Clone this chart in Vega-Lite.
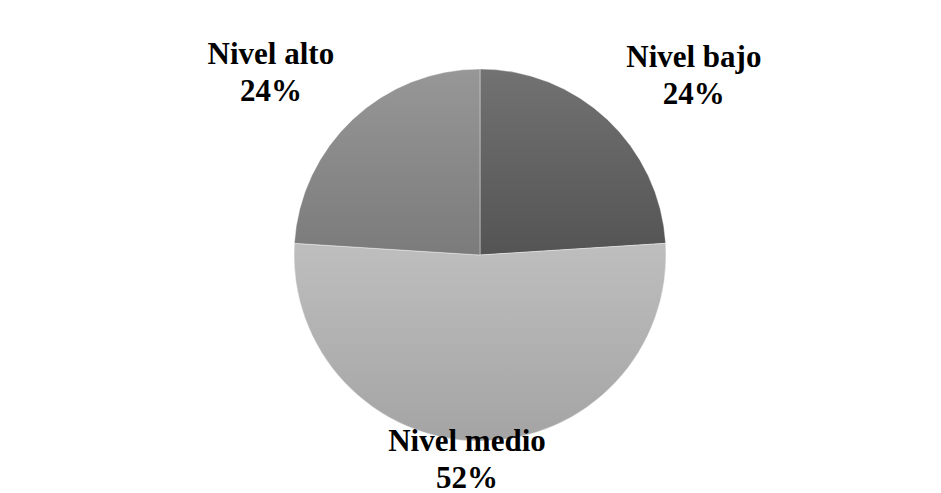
{
  "$schema": "https://vega.github.io/schema/vega-lite/v6.json",
  "autosize": {"type": "none"},
  "width": 944,
  "height": 490,
  "padding": {"left": 8, "top": 10, "right": -11, "bottom": -7},
  "background": "white",
  "config": {"view": {"stroke": "#d6dae2", "strokeWidth": 1}, "text": {"font": "Liberation Serif, DejaVu Serif, serif"}},
  "data": {"values": [
    {"label": "Nivel bajo", "share": 0.24, "orden": 1},
    {"label": "Nivel medio", "share": 0.52, "orden": 2},
    {"label": "Nivel alto", "share": 0.24, "orden": 3}
  ]},
  "transform": [{"stack": "share", "groupby": [], "sort": [{"field": "orden", "order": "ascending"}], "as": ["v0", "v1"]}],
  "layer": [
    {
      "transform": [{"filter": {"field": "label", "equal": "Nivel bajo"}}],
      "mark": {"type": "arc", "outerRadius": 186, "stroke": "#ffffff", "strokeWidth": 0.75, "strokeOpacity": 0.5,
        "fill": {"gradient": "linear", "x1": 0, "y1": 0, "x2": 0, "y2": 1, "stops": [{"offset": 0, "color": "#727272"}, {"offset": 1, "color": "#545454"}]}},
      "encoding": {"theta": {"field": "v0", "type": "quantitative", "scale": {"domain": [0, 1]}}, "theta2": {"field": "v1"}}
    },
    {
      "transform": [{"filter": {"field": "label", "equal": "Nivel medio"}}],
      "mark": {"type": "arc", "outerRadius": 186, "stroke": "#ffffff", "strokeWidth": 0.75, "strokeOpacity": 0.5,
        "fill": {"gradient": "linear", "x1": 0, "y1": 0, "x2": 0, "y2": 1, "stops": [{"offset": 0, "color": "#bebebe"}, {"offset": 1, "color": "#a4a4a4"}]}},
      "encoding": {"theta": {"field": "v0", "type": "quantitative", "scale": {"domain": [0, 1]}}, "theta2": {"field": "v1"}}
    },
    {
      "transform": [{"filter": {"field": "label", "equal": "Nivel alto"}}],
      "mark": {"type": "arc", "outerRadius": 186, "stroke": "#ffffff", "strokeWidth": 0.75, "strokeOpacity": 0.5,
        "fill": {"gradient": "linear", "x1": 0, "y1": 0, "x2": 0, "y2": 1, "stops": [{"offset": 0, "color": "#979797"}, {"offset": 1, "color": "#7b7b7b"}]}},
      "encoding": {"theta": {"field": "v0", "type": "quantitative", "scale": {"domain": [0, 1]}}, "theta2": {"field": "v1"}}
    },
    {
      "mark": {"type": "text", "radius": 276.6, "dx": 24.5, "dy": 4.8, "font": "Liberation Serif, DejaVu Serif, serif", "fontWeight": "bold", "fontSize": 31, "color": "#000000", "align": "center", "baseline": "middle"},
      "encoding": {
        "theta": {"field": "share", "type": "quantitative", "stack": true, "scale": {"domain": [0, 1]}},
        "order": {"field": "orden", "type": "quantitative"},
        "text": {"condition": {"test": "datum.label === 'Nivel bajo'", "field": "label", "type": "nominal"}, "value": ""}
      }
    },
    {
      "mark": {"type": "text", "radius": 276.6, "dx": 24.5, "dy": 41.8, "font": "Liberation Serif, DejaVu Serif, serif", "fontWeight": "bold", "fontSize": 31, "color": "#000000", "align": "center", "baseline": "middle"},
      "encoding": {
        "theta": {"field": "share", "type": "quantitative", "stack": true, "scale": {"domain": [0, 1]}},
        "order": {"field": "orden", "type": "quantitative"},
        "text": {"condition": {"test": "datum.label === 'Nivel bajo'", "field": "share", "type": "quantitative", "format": ".0%"}, "value": ""}
      }
    },
    {
      "mark": {"type": "text", "radius": 207.5, "dx": -13, "dy": -20.5, "font": "Liberation Serif, DejaVu Serif, serif", "fontWeight": "bold", "fontSize": 31, "color": "#000000", "align": "center", "baseline": "middle"},
      "encoding": {
        "theta": {"field": "share", "type": "quantitative", "stack": true, "scale": {"domain": [0, 1]}},
        "order": {"field": "orden", "type": "quantitative"},
        "text": {"condition": {"test": "datum.label === 'Nivel medio'", "field": "label", "type": "nominal"}, "value": ""}
      }
    },
    {
      "mark": {"type": "text", "radius": 207.5, "dx": -13, "dy": 16, "font": "Liberation Serif, DejaVu Serif, serif", "fontWeight": "bold", "fontSize": 31, "color": "#000000", "align": "center", "baseline": "middle"},
      "encoding": {
        "theta": {"field": "share", "type": "quantitative", "stack": true, "scale": {"domain": [0, 1]}},
        "order": {"field": "orden", "type": "quantitative"},
        "text": {"condition": {"test": "datum.label === 'Nivel medio'", "field": "share", "type": "quantitative", "format": ".0%"}, "value": ""}
      }
    },
    {
      "mark": {"type": "text", "radius": 275.4, "dx": -20.6, "dy": 0.8, "font": "Liberation Serif, DejaVu Serif, serif", "fontWeight": "bold", "fontSize": 31, "color": "#000000", "align": "center", "baseline": "middle"},
      "encoding": {
        "theta": {"field": "share", "type": "quantitative", "stack": true, "scale": {"domain": [0, 1]}},
        "order": {"field": "orden", "type": "quantitative"},
        "text": {"condition": {"test": "datum.label === 'Nivel alto'", "field": "label", "type": "nominal"}, "value": ""}
      }
    },
    {
      "mark": {"type": "text", "radius": 275.4, "dx": -20.6, "dy": 37.8, "font": "Liberation Serif, DejaVu Serif, serif", "fontWeight": "bold", "fontSize": 31, "color": "#000000", "align": "center", "baseline": "middle"},
      "encoding": {
        "theta": {"field": "share", "type": "quantitative", "stack": true, "scale": {"domain": [0, 1]}},
        "order": {"field": "orden", "type": "quantitative"},
        "text": {"condition": {"test": "datum.label === 'Nivel alto'", "field": "share", "type": "quantitative", "format": ".0%"}, "value": ""}
      }
    }
  ]
}
